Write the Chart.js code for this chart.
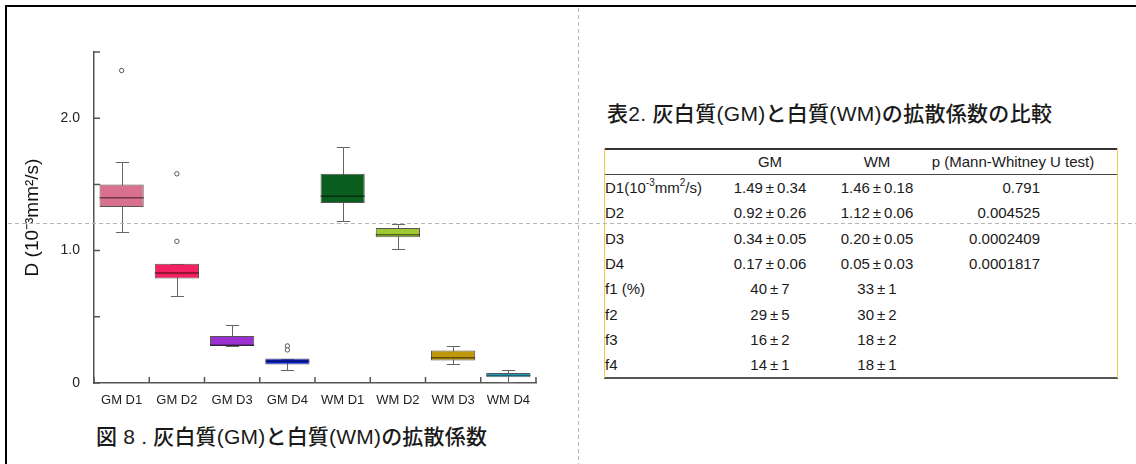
<!DOCTYPE html>
<html>
<head>
<meta charset="utf-8">
<script src="https://cdn.jsdelivr.net/npm/chart.js@4.4.1/dist/chart.umd.min.js"></script>
<style>
  body { margin: 0; background: #fff; width: 1136px; height: 464px; overflow: hidden; position: relative;
         font-family: "Liberation Sans", "Noto Sans CJK JP", sans-serif; color: #1a1a1a; }
  #chartBox { position: absolute; left: 0; top: 0; width: 578px; height: 420px; }
  .abs { position: absolute; white-space: nowrap; }
  .caption { font-size: 21px; line-height: 24px; font-weight: 500; }
  .cell { font-size: 15px; line-height: 20px; height: 20px; }
  .cell sup { font-size: 10px; line-height: 0; position: relative; top: -1px; vertical-align: super; }
  .dashV { position: absolute; left: 578px; top: 8px; width: 1px; height: 456px;
           background: repeating-linear-gradient(to bottom, #b5b5b5 0 4px, transparent 4px 7px); }
  .dashH { position: absolute; left: 8px; top: 223px; width: 1128px; height: 1px;
           background: repeating-linear-gradient(to right, #b5b5b5 0 4px, transparent 4px 7px); }
</style>
</head>
<body>
<div id="chartBox"><canvas id="boxChart" width="578" height="420"></canvas></div>

<div class="abs caption" style="left:96px; top:425px; letter-spacing:0.2px;">図 8 . 灰白質(GM)と白質(WM)の拡散係数</div>
<div class="abs caption" style="left:607px; top:102px; letter-spacing:0.3px;">表2. 灰白質(GM)と白質(WM)の拡散係数の比較</div>

<div id="table"></div>

<div class="dashV"></div>
<div class="dashH"></div>
<div style="position:absolute; left:5px; top:5px; width:1131px; height:2px; background:#000;"></div>
<div style="position:absolute; left:5px; top:5px; width:2px; height:459px; background:#000;"></div>

<script>
// box plot data
const categories = ["GM D1", "GM D2", "GM D3", "GM D4", "WM D1", "WM D2", "WM D3", "WM D4"];
const whiskerLow  = [1.14, 0.66, 0.28, 0.10, 1.22, 1.01, 0.14, 0.01];
const q1          = [1.33, 0.79, 0.28, 0.14, 1.36, 1.10, 0.17, 0.043];
const medians     = [1.40, 0.83, 0.285, 0.165, 1.41, 1.12, 0.19, 0.058];
const q3          = [1.50, 0.90, 0.355, 0.185, 1.58, 1.17, 0.245, 0.075];
const whiskerHigh = [1.67, 0.90, 0.44, 0.185, 1.78, 1.20, 0.28, 0.096];
const boxColors   = ["#d9708f", "#f5205f", "#9a30d0", "#0a22d0", "#0a5e1e", "#a0c832", "#c0960c", "#30c8f0"];

const outlierCats   = ["GM D1", "GM D2", "GM D2", "GM D4", "GM D4"];
const outlierValues = [2.36, 1.58, 1.07, 0.28, 0.25];

const yLabeled = [0, 1, 2];

// table data
const rowLabels = ["D1(10<sup>-3</sup>mm<sup>2</sup>/s)", "D2", "D3", "D4", "f1 (%)", "f2", "f3", "f4"];
const gmValues  = ["1.49", "0.34", "0.92", "0.26", "0.34", "0.05", "0.17", "0.06", "40", "7", "29", "5", "16", "2", "14", "1"];
const wmValues  = ["1.46", "0.18", "1.12", "0.06", "0.20", "0.05", "0.05", "0.03", "33", "1", "30", "2", "18", "2", "18", "1"];
const pValues   = ["0.791", "0.004525", "0.0002409", "0.0001817", "", "", "", ""];
const headers   = ["GM", "WM", "p (Mann-Whitney U test)"];

Chart.defaults.font.family = '"Liberation Sans", Arial, sans-serif';
Chart.defaults.color = "#1a1a1a";

// whiskers, medians and inward tick marks
const boxParts = {
    id: "boxParts",
    beforeDatasetsDraw(chart) {
        const { ctx, scales: { x, y } } = chart;
        const capW = (x.width / categories.length) * 0.24;
        ctx.save();
        ctx.strokeStyle = "#666";
        ctx.lineWidth = 1;
        categories.forEach((c, i) => {
            const cx = Math.round(x.getPixelForValue(i)) + 0.5;
            const lo = Math.round(y.getPixelForValue(whiskerLow[i])) + 0.5;
            const hi = Math.round(y.getPixelForValue(whiskerHigh[i])) + 0.5;
            ctx.beginPath();
            ctx.moveTo(cx, lo); ctx.lineTo(cx, hi);
            ctx.moveTo(cx - capW / 2, lo); ctx.lineTo(cx + capW / 2, lo);
            ctx.moveTo(cx - capW / 2, hi); ctx.lineTo(cx + capW / 2, hi);
            ctx.stroke();
        });
        ctx.restore();
    },
    afterDatasetsDraw(chart) {
        const { ctx, scales: { x, y } } = chart;
        const boxW = (x.width / categories.length) * 0.8;
        ctx.save();
        ctx.strokeStyle = "rgba(0,0,0,0.5)";
        ctx.lineWidth = 1.5;
        categories.forEach((c, i) => {
            const cx = x.getPixelForValue(i);
            const my = y.getPixelForValue(medians[i]);
            ctx.beginPath();
            ctx.moveTo(cx - boxW / 2, my); ctx.lineTo(cx + boxW / 2, my);
            ctx.stroke();
        });
        // inward ticks
        ctx.strokeStyle = "#555";
        ctx.lineWidth = 1.5;
        ctx.beginPath();
        y.ticks.forEach(t => {
            const ty = y.getPixelForValue(t.value);
            ctx.moveTo(x.left, ty); ctx.lineTo(x.left + 6, ty);
        });
        for (let i = 0; i <= categories.length; i++) {
            const tx = x.getPixelForValue(i - 0.5);
            ctx.moveTo(tx, y.bottom); ctx.lineTo(tx, y.bottom - 6);
        }
        ctx.stroke();
        ctx.restore();
    }
};

new Chart(document.getElementById("boxChart").getContext("2d"), {
    data: {
        labels: categories,
        datasets: [{
            type: "bar",
            data: categories.map((c, i) => [q1[i], q3[i]]),
            backgroundColor: boxColors,
            borderColor: "#555",
            borderWidth: 1,
            borderSkipped: false,
            barPercentage: 0.8,
            categoryPercentage: 1.0
        }, {
            type: "line",
            data: outlierCats.map((c, i) => ({ x: c, y: outlierValues[i] })),
            showLine: false,
            pointRadius: 2.2,
            pointBorderWidth: 1,
            pointBorderColor: "#555",
            pointBackgroundColor: "#fff"
        }]
    },
    options: {
        responsive: false,
        animation: false,
        layout: { padding: { left: 17, top: 52, right: 42, bottom: 7 } },
        plugins: { legend: { display: false }, tooltip: { enabled: false } },
        scales: {
            x: {
                type: "category",
                grid: { display: false, drawTicks: false },
                border: { display: true, color: "#555", width: 1.5 },
                ticks: { padding: 10, color: "#222", font: { size: 13 } },
                afterFit(scale) { scale.height = 30; }
            },
            y: {
                min: 0,
                max: 2.5,
                grid: { display: false, drawTicks: false },
                border: { display: true, color: "#555", width: 1.5 },
                ticks: {
                    stepSize: 0.5,
                    padding: 14,
                    color: "#222",
                    font: { size: 14 },
                    callback: v => yLabeled.includes(v) ? (v === 0 ? "0" : v.toFixed(1)) : ""
                },
                title: { display: true, text: "D (10⁻³mm²/s)", color: "#111", font: { size: 19 } },
                afterFit(scale) { scale.width = 77; }
            }
        }
    },
    plugins: [boxParts]
});

// table
const table = document.getElementById("table");
function addCell(html, style) {
    const d = document.createElement("div");
    d.className = "abs cell";
    d.innerHTML = html;
    Object.assign(d.style, style);
    table.appendChild(d);
}
function addLine(left, top, width, height, color) {
    const d = document.createElement("div");
    Object.assign(d.style, { position: "absolute", left: left + "px", top: top + "px",
        width: width + "px", height: height + "px", background: color });
    table.appendChild(d);
}
const rowY = [188, 213.3, 238.6, 263.9, 289.2, 314.5, 339.8, 365.1];
const headerY = 161.5;
const colCenters = [770, 877, 1013];
headers.forEach((h, i) => addCell(h, { left: (colCenters[i] - 120) + "px", width: "240px", textAlign: "center", top: (headerY - 10) + "px" }));
rowLabels.forEach((lab, r) => {
    const top = (rowY[r] - 10) + "px";
    addCell(lab, { left: "605px", top: top });
    addCell(gmValues[2 * r] + "\u2009±\u2009" + gmValues[2 * r + 1], { left: (colCenters[0] - 80) + "px", width: "160px", textAlign: "center", top: top });
    addCell(wmValues[2 * r] + "\u2009±\u2009" + wmValues[2 * r + 1], { left: (colCenters[1] - 80) + "px", width: "160px", textAlign: "center", top: top });
    if (pValues[r]) addCell(pValues[r], { left: "900px", width: "140px", textAlign: "right", top: top });
});
addLine(604, 148, 514, 2, "#333");
addLine(604, 173.5, 514, 1.5, "#444");
addLine(604, 376.5, 514, 2, "#555");
addLine(603.5, 148, 1, 230, "#f5c84c");
addLine(1117, 148, 1, 230, "#f5c84c");
</script>
</body>
</html>
